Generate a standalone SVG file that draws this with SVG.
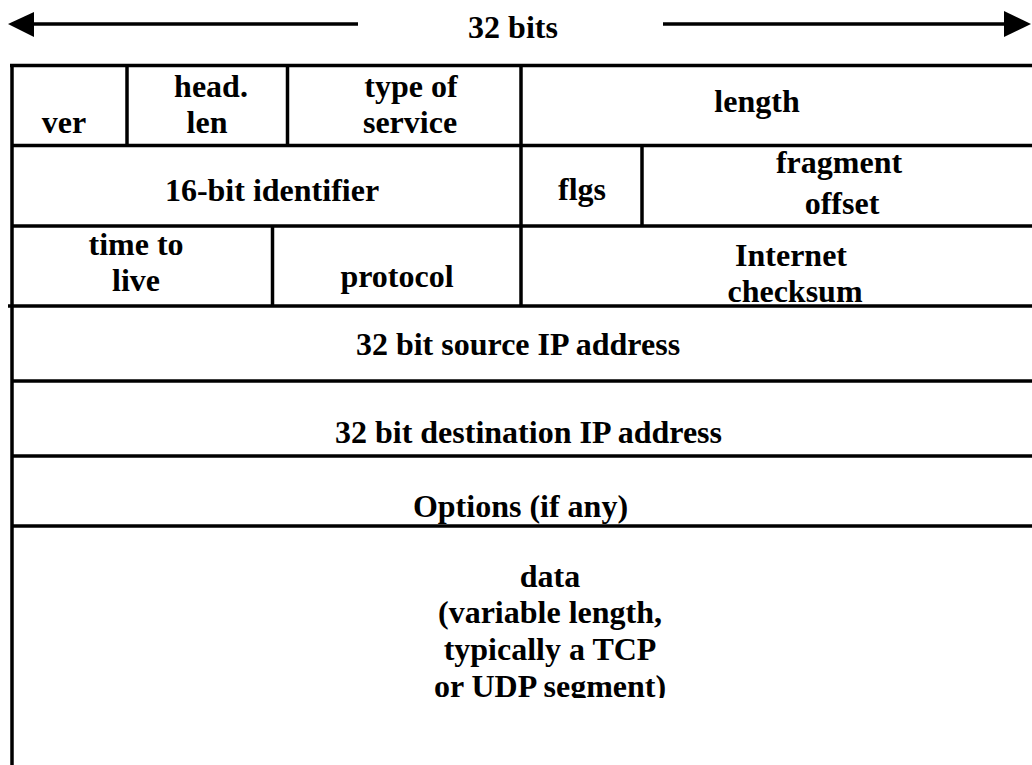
<svg xmlns="http://www.w3.org/2000/svg" width="1032" height="765" viewBox="0 0 1032 765">
<style>
  .t{font-family:"Liberation Serif","Times New Roman",serif;font-weight:bold;font-size:32px;fill:#000;text-anchor:middle}
  .ln{stroke:#000;stroke-width:3.5;fill:none}
</style>
<defs>
  <clipPath id="dclip"><rect x="14" y="528" width="1018" height="170"/></clipPath>
</defs>
<rect width="1032" height="765" fill="#fff"/>
<g id="width-arrows">
  <line class="ln" x1="30" y1="24" x2="358" y2="24"/>
  <polygon points="8,24 34,12 34,37" fill="#000"/>
  <line class="ln" x1="663" y1="24" x2="1008" y2="24"/>
  <polygon points="1031,24 1004,11 1004,37" fill="#000"/>
  <text class="t" x="513" y="38">32 bits</text>
</g>
<g id="grid">
  <line class="ln" x1="10" y1="65.5" x2="1032" y2="65.5"/>
  <line class="ln" x1="12" y1="64" x2="12" y2="765"/>
  <line class="ln" x1="12" y1="145.5" x2="1032" y2="145.5"/>
  <line class="ln" x1="12" y1="226" x2="1032" y2="226"/>
  <line class="ln" x1="8" y1="306" x2="1032" y2="306"/>
  <line class="ln" x1="12" y1="381" x2="1032" y2="381"/>
  <line class="ln" x1="12" y1="456" x2="1032" y2="456"/>
  <line class="ln" x1="12" y1="526" x2="1032" y2="526"/>
  <line class="ln" x1="127" y1="65" x2="127" y2="146"/>
  <line class="ln" x1="287.5" y1="65" x2="287.5" y2="146"/>
  <line class="ln" x1="521" y1="65" x2="521" y2="306"/>
  <line class="ln" x1="642" y1="145" x2="642" y2="226"/>
  <line class="ln" x1="272.5" y1="226" x2="272.5" y2="306"/>
</g>
<g id="ver"><text class="t" x="64" y="133">ver</text></g>
<g id="head-len"><text class="t" x="211" y="97">head.</text><text class="t" x="207" y="133">len</text></g>
<g id="tos"><text class="t" x="411" y="97">type of</text><text class="t" x="410" y="133">service</text></g>
<g id="length"><text class="t" x="757" y="112">length</text></g>
<g id="identifier"><text class="t" x="272" y="201">16-bit identifier</text></g>
<g id="flgs"><text class="t" x="582" y="200">flgs</text></g>
<g id="frag"><text class="t" x="839" y="173">fragment</text><text class="t" x="842" y="214">offset</text></g>
<g id="ttl"><text class="t" x="136" y="255">time to</text><text class="t" x="136" y="291">live</text></g>
<g id="protocol"><text class="t" x="397" y="287">protocol</text></g>
<g id="checksum"><text class="t" x="791" y="266">Internet</text><text class="t" x="795" y="302">checksum</text></g>
<g id="src"><text class="t" x="518" y="355">32 bit source IP address</text></g>
<g id="dst"><text class="t" x="528.5" y="443">32 bit destination IP address</text></g>
<g id="options"><text class="t" x="520.5" y="517">Options (if any)</text></g>
<g id="data" clip-path="url(#dclip)">
  <text class="t" x="550" y="587">data</text>
  <text class="t" x="550" y="623">(variable length,</text>
  <text class="t" x="550" y="660">typically a TCP</text>
  <text class="t" x="550" y="697">or UDP segment)</text>
</g>
</svg>
